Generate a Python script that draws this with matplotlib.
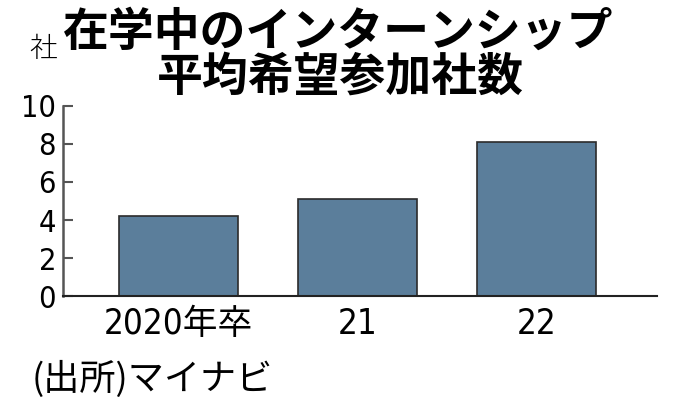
import matplotlib
matplotlib.use('Agg')
import matplotlib.pyplot as plt

# --- data ---
categories = ['2020年卒', '21', '22']
values = [4.2, 5.1, 8.1]
yticks = [0, 2, 4, 6, 8, 10]

title_lines = ['在学中のインターンシップ', '平均希望参加社数']
unit_label = '社'
source = '(出所)マイナビ'

CJK = ['Noto Sans CJK JP', 'DejaVu Sans']
NARROW = ['DejaVu Sans', 'Noto Sans CJK JP']
plt.rcParams['font.family'] = CJK

fig = plt.figure(figsize=(6.8, 4.17), dpi=100)
ax = fig.add_axes([0.0926, 0.290, 0.8734, 0.456])

x = range(len(categories))
ax.bar(x, values, width=0.665, color='#5b7e9b', edgecolor='#2b2b2b', linewidth=1.2, zorder=2)

ax.set_xlim(-0.645, 2.673)
ax.set_ylim(0, 10)
ax.set_yticks(yticks)
ax.set_yticklabels([str(v) for v in yticks], family=NARROW, stretch='condensed', fontsize=22)
ax.set_xticks(list(x))
ax.set_xticklabels(categories, family=NARROW, stretch='condensed', fontsize=25)

ax.tick_params(axis='y', direction='in', length=7, width=1.5, color='#555555', pad=5)
ax.tick_params(axis='x', length=0, pad=8)

for side in ('top', 'right'):
    ax.spines[side].set_visible(False)
ax.spines['left'].set_color('#555555')
ax.spines['left'].set_linewidth(1.8)
ax.spines['bottom'].set_color('#222222')
ax.spines['bottom'].set_linewidth(1.5)

# --- titles and notes ---
fig.text(0.498, 0.921, title_lines[0], ha='center', va='center',
         fontsize=33, fontweight='bold', family=CJK)
fig.text(0.500, 0.813, title_lines[1], ha='center', va='center',
         fontsize=33, fontweight='bold', family=CJK)
fig.text(0.064, 0.883, unit_label, ha='center', va='center', fontsize=20,
         fontweight='light', family=CJK)
fig.text(0.047, 0.089, source, ha='left', va='center', fontsize=26, family=CJK)

fig.savefig('out.png', dpi=100, facecolor='white')
